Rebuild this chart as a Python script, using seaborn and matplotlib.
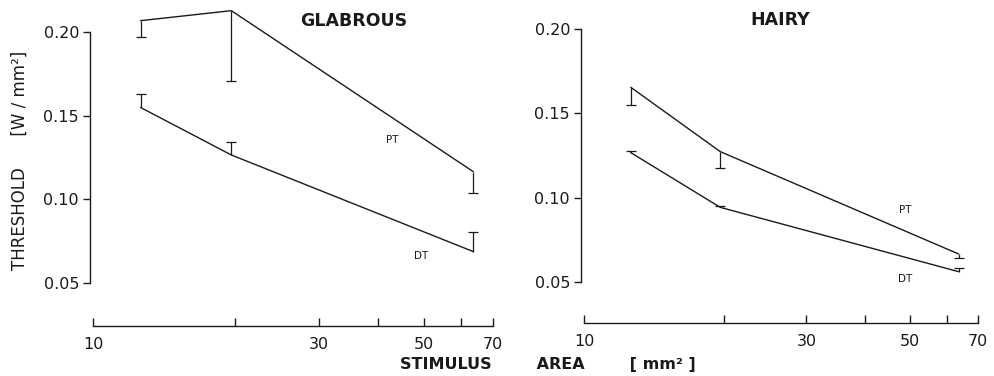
import pandas as pd
import seaborn as sns
import matplotlib
matplotlib.use("Agg")
import matplotlib.pyplot as plt
from matplotlib.ticker import NullLocator


# stimulus areas (mm^2)
area = [12.6, 19.6, 63.6]

# glabrous skin
glab_pt = [0.207, 0.213, 0.1165]
glab_pt_err = [0.010, 0.042, 0.013]
glab_dt = [0.155, 0.1265, 0.0686]
glab_dt_err = [0.008, 0.0075, 0.0115]

# hairy skin
hairy_pt = [0.1655, 0.1273, 0.0665]
hairy_pt_err = [0.0105, 0.0099, 0.0025]
hairy_dt = [0.1267, 0.0942, 0.056]
hairy_dt_err = [0.001, 0.001, 0.002]

x_ticks = [10, 20, 30, 40, 50, 60, 70]
x_tick_labels = ["10", "", "30", "", "50", "", "70"]
y_ticks = [0.05, 0.10, 0.15, 0.20]
y_tick_labels = ["0.05", "0.10", "0.15", "0.20"]

sns.set_style("ticks")
plt.rcParams["font.family"] = ["DejaVu Sans"]

COR = "#1a1a1a"
W, H = 995, 376

fig = plt.figure(figsize=(9.95, 3.76), dpi=100)
ax1 = fig.add_axes([93 / W, (H - 326) / H, 400 / W, 321 / H])
ax2 = fig.add_axes([584 / W, (H - 323) / H, 394 / W, 318 / H])


def desenhar(ax, pt, pt_err, dt, dt_err, ylim, rotulos):
    df = pd.DataFrame({
        "area": area * 2,
        "limiar": pt + dt,
        "medida": ["PT"] * 3 + ["DT"] * 3,
    })
    sns.lineplot(data=df, x="area", y="limiar", hue="medida",
                 palette=[COR, COR], linewidth=1.0, legend=False, ax=ax)

    # PT error bars go down, DT error bars go up; only the far end has a cap
    _, caps, _ = ax.errorbar(area, pt, yerr=[pt_err, [0] * 3], fmt="none",
                             ecolor=COR, elinewidth=0.9, capsize=3.5,
                             capthick=0.9)
    caps[1].set_visible(False)
    _, caps, _ = ax.errorbar(area, dt, yerr=[[0] * 3, dt_err], fmt="none",
                             ecolor=COR, elinewidth=0.9, capsize=3.5,
                             capthick=0.9)
    caps[0].set_visible(False)

    ax.set_xscale("log")
    ax.set_xlim(10, 70)
    ax.set_ylim(*ylim)
    ax.set_xticks(x_ticks)
    ax.set_xticklabels(x_tick_labels)
    ax.xaxis.set_minor_locator(NullLocator())
    ax.set_yticks(y_ticks)
    ax.set_yticklabels(y_tick_labels)
    ax.set_xlabel("")
    ax.set_ylabel("")

    for lado in ["top", "right"]:
        ax.spines[lado].set_visible(False)
    ax.spines["left"].set_bounds(0.05, 0.20)
    ax.spines["left"].set_position(("outward", 2))
    ax.spines["bottom"].set_bounds(10, 70)
    for lado in ["left", "bottom"]:
        ax.spines[lado].set_color(COR)
        ax.spines[lado].set_linewidth(1.0)

    ax.tick_params(axis="x", direction="in", length=6, width=1.0, pad=8,
                   labelsize=11.5, colors=COR)
    ax.tick_params(axis="y", direction="out", length=5, width=1.0, pad=3,
                   labelsize=11.5, colors=COR)

    for texto, (xt, yt) in rotulos.items():
        ax.text(xt, yt, texto, fontsize=7.5, color=COR, ha="center", va="center")


desenhar(ax1, glab_pt, glab_pt_err, glab_dt, glab_dt_err, (0.024, 0.2164),
         {"PT": (42.8, 0.1355), "DT": (49.4, 0.066)})
desenhar(ax2, hairy_pt, hairy_pt_err, hairy_dt, hairy_dt_err, (0.0255, 0.2144),
         {"PT": (48.8, 0.0926), "DT": (48.8, 0.0516)})

fig.text(354 / W, 1 - 21 / H, "GLABROUS", fontsize=12.5, weight="bold",
         color=COR, ha="center", va="center")
fig.text(780 / W, 1 - 20 / H, "HAIRY", fontsize=12.5, weight="bold",
         color=COR, ha="center", va="center")
fig.text(20 / W, 1 - 160 / H, "THRESHOLD      [W / mm²]", fontsize=12,
         rotation=90, color=COR, ha="center", va="center")
fig.text(548 / W, 1 - 365 / H, "STIMULUS        AREA        [ mm² ]",
         fontsize=11.5, weight="bold", color=COR, ha="center", va="center")

fig.savefig("out.png", dpi=100)
